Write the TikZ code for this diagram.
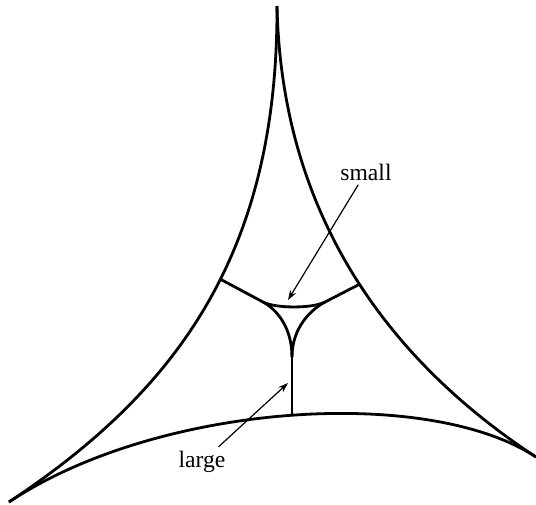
\documentclass[tikz,border=0pt]{standalone}
\usepackage{fontspec}
\setmainfont{Liberation Serif}
\usetikzlibrary{arrows.meta}

\begin{document}
\begin{tikzpicture}[x=0.5pt, y=-0.5pt, >={Stealth[length=5pt,width=3.4pt]},
    curve/.style={line width=1.4pt, line join=round},
    pointer/.style={->, line width=0.6pt},
    lbl/.style={font=\fontsize{11.8}{14}\selectfont, inner sep=2pt}]
  \useasboundingbox (0,0) rectangle (536,504);

  \coordinate (top) at (277,6);
  \coordinate (bl) at (9,502);
  \coordinate (br) at (536,457);
  \coordinate (jl) at (220,279);
  \coordinate (jr) at (360,284);
  \coordinate (ca) at (263,302);
  \coordinate (cb) at (325,302);
  \coordinate (cc) at (292,357);
  \coordinate (jb) at (292,415);

  \draw[curve] (top) .. controls (278,256) and (175,392) .. (bl);
  \draw[curve] (top) .. controls (282,236) and (410,374.5) .. (br);
  \draw[curve] (bl) .. controls (158,403) and (427,385.5) .. (br);

  \draw[curve] (jl) -- (ca) .. controls (275.3,308.6) and (312.7,308.6) .. (cb) -- (jr);
  \draw[curve] (ca) .. controls (276.2,309) and (292,327) .. (cc);
  \draw[curve] (cb) .. controls (311.8,309) and (292,327) .. (cc);
  \draw[curve] (cc) -- (jb);

  \node[lbl] (small) at (366,172) {small};
  \node[lbl] (large) at (202,462) {large};
  \coordinate (ptsmall) at (288,300);
  \coordinate (ptlarge) at (288,383);
  \draw[pointer] (small) -- (ptsmall);
  \draw[pointer] (large) -- (ptlarge);
\end{tikzpicture}
\end{document}
